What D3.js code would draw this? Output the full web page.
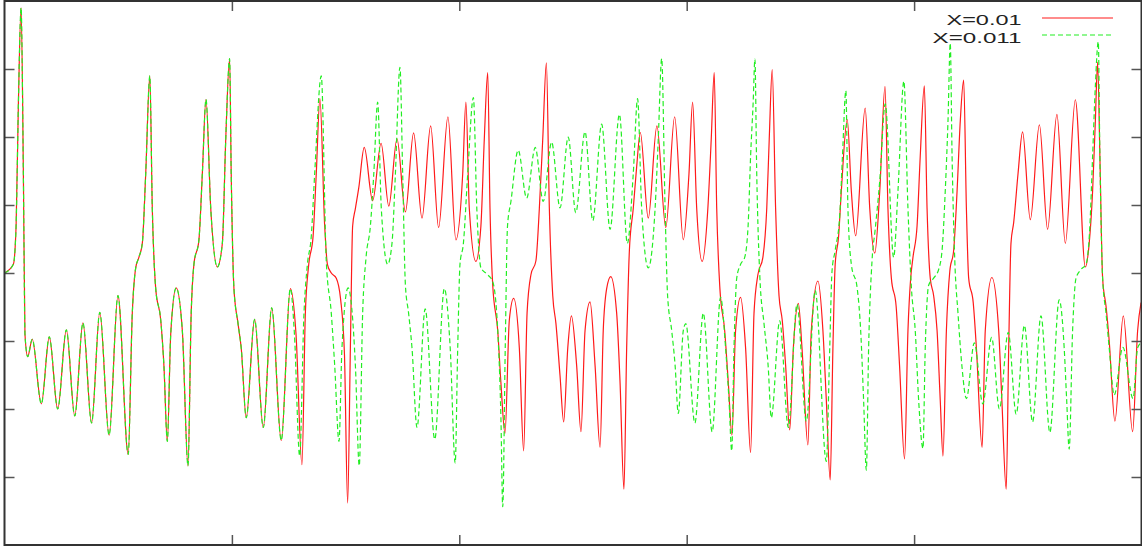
<!DOCTYPE html>
<html>
<head>
<meta charset="utf-8">
<script src="https://cdn.jsdelivr.net/npm/d3@7"></script>
<style>
  html, body { margin: 0; padding: 0; background: #fff; }
  svg { display: block; }
</style>
</head>
<body>
<svg id="chart" width="1142" height="546"></svg>
<script>
// ---- Data ----
const seriesNames = ["X=0.01", "X=0.011"];

// common start: both runs coincide
const tCommon = [0, 0.39, 0.51, 0.61, 0.73, 0.83, 0.90, 1.02, 1.22, 1.62, 1.97, 2.34, 2.72, 3.09, 3.45, 3.83, 4.19, 4.60,
  4.99, 5.44, 5.62, 5.77, 5.91, 6.06, 6.21, 6.39, 6.50, 6.65, 6.87, 7.01, 7.16, 7.31, 7.55, 7.82, 8.07, 8.21, 8.33,
  8.55, 8.70, 8.86, 9.07, 9.36, 9.58, 9.73, 9.90, 9.97, 10.09, 10.27, 10.41, 10.63, 11.00, 11.38, 11.75, 12.17, 12.57];
const xCommon = [0, 0.64, 3.46, 12.4, 19.5, 7.3, -4.5, -6.15, -4.87, -9.62, -4.69, -10.0, -4.18, -10.51, -3.67, -11.03, -2.9, -11.92,
  -1.67, -13.33, -2.95, 0.38, 1.15, 2.18, 7.3, 14.49, 4.74, -1.15, -3.46, -6.79, -12.38, -4.49, -1.10, -4.23, -14.18, -2.95, 0.64,
  2.44, 7.3, 12.77, 4.74, 0.44, 2.18, 9.87, 15.77, 7.3, -1.15, -3.72, -5.51, -10.64, -3.41, -11.36, -2.56, -12.31, -1.15];

// X=0.01 after divergence
const tRed = [12.82, 13.08, 13.23, 13.38, 13.57, 13.71, 13.87, 14.08, 14.20, 14.37, 14.59, 14.78, 14.95, 15.09, 15.21, 15.31,
  15.43, 15.58, 15.82, 16.19, 16.56, 16.90, 17.26, 17.63, 17.99, 18.36, 18.74, 19.09, 19.50, 19.85, 20.15, 20.29, 20.44,
  20.73, 20.95, 21.10, 21.25, 21.35, 21.47, 21.69, 21.83, 22.01, 22.20, 22.39, 22.64, 22.83, 22.98, 23.15, 23.37, 23.52,
  23.67, 23.83, 23.96, 24.11, 24.25, 24.43, 24.59, 24.77, 24.93, 25.16, 25.35, 25.53, 25.75, 25.97, 26.19, 26.33, 26.48,
  26.66, 26.92, 27.07, 27.24, 27.36, 27.48, 27.65, 27.80, 27.96, 28.31, 28.69, 29.08, 29.47, 29.85, 30.10, 30.26, 30.44,
  30.68, 30.93, 31.08, 31.21, 31.32, 31.46, 31.67, 31.83, 31.99, 32.15, 32.37, 32.59, 32.81, 32.96, 33.13, 33.35, 33.52,
  33.63, 33.76, 33.91, 34.06, 34.20, 34.35, 34.53, 34.69, 34.91, 35.07, 35.33, 35.48, 35.77, 35.99, 36.14, 36.31, 36.43,
  36.53, 36.68, 36.80, 37.06, 37.24, 37.43, 37.85, 38.05, 38.27, 38.49, 38.72, 38.85, 39.00, 39.21, 39.36, 39.58, 39.73,
  39.85, 39.95, 40.13, 40.27, 40.45, 40.57, 40.71, 40.86, 41.01, 41.15, 41.27, 41.42, 41.57, 41.74, 41.89, 42.03, 42.18,
  42.30, 42.40, 42.60, 42.74, 42.99, 43.13, 43.42, 43.72, 43.86, 44.05, 44.16, 44.26, 44.38, 44.57, 44.77, 45.11, 45.51,
  45.87, 46.28, 46.65, 47.09, 47.53, 47.70, 47.85, 47.97, 48.07, 48.17, 48.29, 48.44, 48.58, 48.83, 49.20, 49.61, 49.83, 49.98];
const xRed = [-4.5, -14.1, -2.95, 0.64, 2.69, 7.3, 12.82, 3.46, 0.64, 0.0, -0.38, -1.92, -6.0, -16.92, -5.51, 3.46,
  4.74, 6.28, 9.23, 5.31, 9.54, 4.92, 9.87, 4.49, 10.31, 4.03, 10.82, 3.33, 11.49, 2.44, 7.3, 12.56, 4.74,
  0.85, 3.46, 9.87, 14.74, 4.74, -0.9, -4.23, -8.08, -11.79, -3.46, -1.87, -5.51, -13.08, -2.95, -0.13, 0.9, 4.74,
  9.87, 15.46, 4.74, -1.67, -3.72, -7.56, -10.95, -5.51, -3.15, -6.79, -11.67, -4.23, -2.13, -6.79, -12.82, -4.23, -1.15,
  -0.26, -2.95, -8.08, -15.9, -5.51, 1.67, 4.74, 7.82, 10.33, 4.03, 10.82, 3.33, 11.49, 2.44, 7.3, 12.56, 4.74,
  0.85, 4.74, 9.87, 14.74, 4.74, -1.15, -4.23, -8.08, -11.92, -4.23, -1.79, -5.51, -13.21, -2.95, -0.13, 1.15, 4.74,
  9.87, 14.95, 4.74, -1.67, -3.46, -6.79, -11.54, -5.51, -2.23, -5.51, -12.64, -4.23, -0.59, -4.23, -9.36, -15.21, -5.51,
  0.64, 2.69, 6.03, 11.28, 6.03, 2.74, 12.13, 4.74, 1.46, 6.03, 13.72, 4.74, -0.38, -2.44, -6.79, -13.67, -4.23,
  -0.38, 1.15, 3.46, 8.59, 13.77, 4.74, -0.38, -1.67, -4.23, -9.36, -13.46, -4.23, 0.13, 1.67, 6.03, 11.15, 14.18,
  4.74, -0.38, -2.18, -5.51, -12.82, -4.23, -0.33, -4.23, -9.36, -15.9, -5.51, 2.18, 3.72, 7.3, 10.38, 3.92, 10.9,
  3.21, 11.67, 2.18, 12.74, 0.44, 2.18, 6.03, 11.15, 15.51, 8.59, -0.38, -2.44, -5.0, -10.9, -3.15, -11.67, -4.23, -2.18];

// X=0.011 after divergence
const tGreen = [12.75, 12.98, 13.17, 13.32, 13.49, 13.64, 13.93, 14.15, 14.37, 14.52, 14.71, 14.84, 15.11, 15.43, 15.60,
  15.75, 15.90, 16.09, 16.24, 16.41, 16.57, 16.85, 17.04, 17.19, 17.39, 17.51, 17.63, 17.77, 17.92, 18.14, 18.50, 18.92,
  19.34, 19.60, 19.82, 19.93, 20.03, 20.18, 20.37, 20.62, 20.77, 20.95, 21.25, 21.47, 21.69, 21.83, 21.91, 22.02, 22.12,
  22.27, 22.59, 22.96, 23.34, 23.69, 24.06, 24.43, 24.79, 25.12, 25.53, 25.87, 26.26, 26.63, 27.04, 27.39, 27.65, 27.84,
  28.02, 28.31, 28.61, 28.75, 28.90, 29.05, 29.16, 29.34, 29.49, 29.63, 29.85, 29.96, 30.36, 30.73, 31.12, 31.49, 31.71,
  31.86, 31.98, 32.08, 32.20, 32.37, 32.55, 32.70, 32.81, 32.92, 33.00, 33.08, 33.22, 33.40, 33.58, 33.72, 34.09, 34.47,
  34.85, 35.26, 35.65, 36.14, 36.29, 36.39, 36.53, 36.73, 36.85, 37.00, 37.09, 37.24, 37.50, 37.65, 37.78, 37.90, 38.00,
  38.15, 38.29, 38.49, 38.73, 39.10, 39.29, 39.55, 39.73, 39.88, 40.05, 40.20, 40.39, 40.49, 40.64, 40.86, 41.08, 41.23,
  41.37, 41.49, 41.59, 41.67, 41.79, 41.93, 42.10, 42.30, 42.65, 43.02, 43.41, 43.75, 44.14, 44.49, 44.85, 45.21, 45.58,
  45.97, 46.38, 46.60, 46.71, 46.82, 46.97, 47.12, 47.34, 47.56, 47.73, 47.85, 47.97, 48.10, 48.17, 48.29, 48.44, 48.58,
  48.80, 49.18, 49.63, 49.83, 49.98];
const xGreen = [-4.5, -13.46, -2.95, 0.64, 2.69, 7.3, 14.49, 0.9, -2.95, -6.79, -12.38, -5.51, -1.10, -6.79, -14.18,
  -2.95, 1.15, 3.46, 7.3, 12.56, 4.74, 0.64, 2.18, 7.3, 15.13, 7.3, -0.9, -2.95, -5.51, -11.36, -2.64, -12.23,
  -1.15, -5.51, -13.97, -5.51, 0.64, 2.18, 7.3, 12.9, 4.74, 0.38, -0.13, -0.64, -4.23, -10.64, -17.18, -5.51, 3.46,
  5.26, 9.03, 5.51, 9.23, 5.26, 9.62, 4.79, 10.0, 4.44, 10.38, 3.85, 10.95, 3.21, 11.67, 2.18, 7.3, 12.82,
  4.74, 0.38, 4.74, 9.87, 15.77, 4.74, -1.67, -4.23, -6.79, -10.33, -4.23, -3.72, -11.03, -2.95, -11.67, -1.79, -5.51,
  -9.36, -13.08, -5.51, -0.38, 0.64, 1.15, 3.46, 8.59, 12.44, 15.72, 7.3, -0.38, -3.72, -6.79, -10.64, -3.51, -11.36,
  -2.31, -10.9, -1.28, -13.85, -5.51, 0.13, 1.67, 4.23, 8.59, 13.41, 4.74, 0.64, -1.15, -4.23, -9.36, -14.49, -5.51,
  0.9, 3.21, 6.79, 12.44, 1.15, 6.03, 14.1, 4.74, -1.03, -4.23, -9.36, -12.9, -5.51, -0.9, -0.38, 0.26, 1.67,
  6.03, 11.15, 16.9, 8.59, 0.9, -2.95, -6.79, -9.23, -5.13, -9.62, -4.74, -10.0, -4.36, -10.38, -3.85, -10.95, -3.15,
  -11.72, -1.97, -5.51, -9.36, -12.95, -4.23, -0.38, 0.26, 0.64, 3.46, 8.59, 13.72, 17.0, 8.59, -0.38, -2.95, -5.51,
  -8.97, -5.46, -9.23, -5.51, -5.13];

const xTicks = [10, 20, 30, 40];
const yTicks = [-15, -10, -5, 0, 5, 10, 15];

// ---- Build series ----
const zip = (ts, vs) => ts.map((t, i) => [t, vs[i]]);
const redData = zip(tCommon, xCommon).concat(zip(tRed, xRed));
const greenData = zip(tCommon, xCommon).concat(zip(tGreen, xGreen));

// ---- Layout ----
const svg = d3.select("#chart");
const L = 4.5, R = 1141.5, T = 1, B = 545;
const x = d3.scaleLinear().domain([0, 50]).range([L, R]);
const y = d3.scaleLinear().domain([-20, 20]).range([B, T]);

const line = d3.line().x(d => x(d[0])).y(d => y(d[1])).curve(d3.curveMonotoneX);

svg.append("defs").append("clipPath").attr("id", "clip")
  .append("rect").attr("x", L).attr("y", T).attr("width", R - L).attr("height", B - T);

const plot = svg.append("g").attr("clip-path", "url(#clip)");
plot.append("path").datum(redData).attr("d", line)
  .attr("fill", "none").attr("stroke", "#ff1a1a").attr("stroke-width", 1.2);
plot.append("path").datum(greenData).attr("d", line)
  .attr("fill", "none").attr("stroke", "#22ee22").attr("stroke-width", 1.2)
  .attr("stroke-dasharray", "5,3");

// ---- Ticks (inward, no labels) ----
const tickLen = 10;
const tickStyle = sel => sel.attr("stroke", "#555").attr("stroke-width", 1.5);
const axes = svg.append("g");
axes.append("g").attr("transform", `translate(${L},0)`)
  .call(d3.axisRight(y).tickValues(yTicks).tickSize(tickLen).tickFormat(""))
  .call(g => g.select(".domain").remove()).selectAll("line").call(tickStyle);
axes.append("g").attr("transform", `translate(${R},0)`)
  .call(d3.axisLeft(y).tickValues(yTicks).tickSize(tickLen).tickFormat(""))
  .call(g => g.select(".domain").remove()).selectAll("line").call(tickStyle);
axes.append("g").attr("transform", `translate(0,${B})`)
  .call(d3.axisTop(x).tickValues(xTicks).tickSize(tickLen).tickFormat(""))
  .call(g => g.select(".domain").remove()).selectAll("line").call(tickStyle);
axes.append("g").attr("transform", `translate(0,${T})`)
  .call(d3.axisBottom(x).tickValues(xTicks).tickSize(tickLen).tickFormat(""))
  .call(g => g.select(".domain").remove()).selectAll("line").call(tickStyle);

// frame
svg.append("rect").attr("x", L).attr("y", T).attr("width", R - L).attr("height", B - T)
  .attr("fill", "none").attr("stroke", "#333").attr("stroke-width", 2);

// ---- Legend ----
const legend = svg.append("g");
const legendRows = [
  { name: seriesNames[0], color: "#ff1a1a", dash: null, y: 18, base: 25, w: 75 },
  { name: seriesNames[1], color: "#22ee22", dash: "5,3", y: 35, base: 42.5, w: 89 }
];
legendRows.forEach(r => {
  legend.append("text").attr("x", 1021.5 - r.w).attr("y", r.base)
    .attr("font-family", "Liberation Sans, Arial, sans-serif").attr("font-size", 15)
    .attr("fill", "#222").attr("textLength", r.w).attr("lengthAdjust", "spacingAndGlyphs")
    .text(r.name);
  legend.append("line").attr("x1", 1042).attr("x2", 1113).attr("y1", r.y).attr("y2", r.y)
    .attr("stroke", r.color).attr("stroke-width", 1.2)
    .attr("stroke-dasharray", r.dash);
});
</script>
</body>
</html>
